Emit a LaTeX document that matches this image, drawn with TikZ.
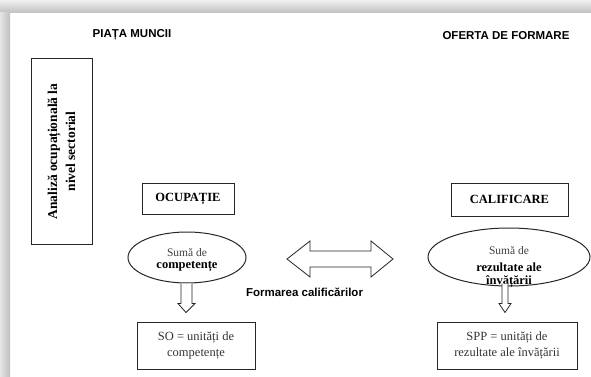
\documentclass[tikz,border=0pt]{standalone}
\usepackage{fontspec}
\setmainfont{Liberation Serif}
\newfontfamily\arialf{Liberation Sans}
\usetikzlibrary{shapes.geometric,calc}
\begin{document}
\begin{tikzpicture}[x=1pt,y=-1pt,
  hd/.style={font=\arialf\bfseries\fontsize{11.5}{13}\selectfont, inner sep=0},
  box/.style={draw=black!85, line width=1pt, inner sep=0, align=center},
  ell/.style={draw=black!85, ellipse, line width=1pt, inner sep=0},
  boxtxt/.style={font=\fontsize{12.5}{16}\selectfont, text=black!80, align=center, inner sep=0},
  ttl/.style={font=\bfseries\fontsize{12.5}{15}\selectfont, inner sep=0},
  barrow/.style={draw=black!85, line width=0.8pt, fill=white, line join=miter}]
\useasboundingbox (0,0) rectangle (591,377);
\shade[top color=gray!12, bottom color=gray!50] (0,0) rectangle (591,13);
\shade[left color=gray!20, right color=gray!50] (0,13) rectangle (10,377);

\node[hd] (piata) at (132,35) {PIAȚA MUNCII};
\node[hd] (oferta) at (506,36) {OFERTA DE FORMARE};

\node[box, minimum width=61, minimum height=185] (analiza) at (61.5,151.5) {};
\node[rotate=90, font=\bfseries\fontsize{13.5}{18}\selectfont, align=center, inner sep=0] (analizat) at (analiza.center) {Analiză ocupațională la\\nivel sectorial};

\node[box, minimum width=92, minimum height=31] (ocup) at (188,198.5) {};
\node[ttl] (ocupt) at (ocup.center) {OCUPAȚIE};
\node[box, minimum width=117, minimum height=33] (calif) at (509.5,199.5) {};
\node[ttl] (calift) at (calif.center) {CALIFICARE};

\node[ell, minimum width=118, minimum height=51] (ellL) at (187,257.5) {};
\node[font=\fontsize{11.5}{14}\selectfont, text=black!75, inner sep=0] (sumaL) at (187,252.5) {Sumă de};
\node[font=\bfseries\fontsize{12.5}{14}\selectfont, inner sep=0] (compL) at (187,267) {competențe};

\node[ell, minimum width=162, minimum height=58] (ellR) at (509,257) {};
\node[font=\fontsize{11.5}{14}\selectfont, text=black!75, inner sep=0] (sumaR) at (509,251) {Sumă de};
\node[font=\bfseries\fontsize{12.5}{14}\selectfont, inner sep=0] (rezR) at (509,267) {rezultate ale};
\node[font=\bfseries\fontsize{12.5}{14}\selectfont, inner sep=0] (invR) at (509,281.5) {învățării};

\node[box, minimum width=118, minimum height=47] (so) at (196,345.5) {};
\node[boxtxt] (sot) at (so.center) {SO = unități de\\competențe};
\node[box, minimum width=140, minimum height=47] (spp) at (507,345.5) {};
\node[boxtxt] (sppt) at (spp.center) {SPP = unități de\\rezultate ale învățării};

% double arrow
\coordinate (dl) at (287,259);
\coordinate (dr) at (393,259);
\draw[barrow] (dl) -- ++(23,-18) -- ++(0,10) -- ($(dr)+(-22,-8)$) -- ++(0,-10) -- (dr)
  -- ++(-22,18) -- ++(0,-10) -- ($(dl)+(23,8)$) -- ++(0,10) -- cycle;
\node[hd] (form) at (304.5,292) {Formarea calificărilor};

% down arrows
\draw[barrow] ($(ellL.south)+(-6,0)$) -- ++(0,20) -- ++(-3,0) -- ($(ellL.south)+(-1,29)$) -- ++(9,-9) -- ++(-3,0) -- ++(0,-20);
\draw[barrow] ($(ellR.south)+(-7,-3)$) -- ++(0,20) -- ++(-3,0) -- ($(ellR.south)+(-4,26)$) -- ($(ellR.south)+(2,17)$) -- ++(-3,0) -- ++(0,-20);
\end{tikzpicture}
\end{document}
